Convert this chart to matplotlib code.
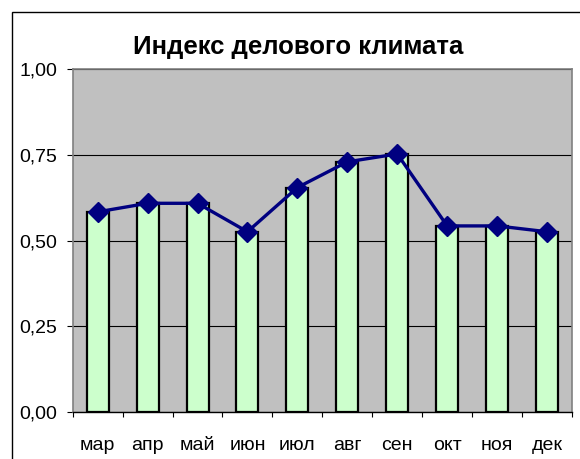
import numpy as np
import matplotlib
matplotlib.use("Agg")
import matplotlib.pyplot as plt
from matplotlib.patches import Rectangle

plt.rcParams["font.family"] = ["Liberation Sans", "DejaVu Sans"]

# data
months = ["мар", "апр", "май", "июн", "июл", "авг", "сен", "окт", "ноя", "дек"]
index_vals = [0.584, 0.609, 0.609, 0.526, 0.655, 0.730, 0.753, 0.543, 0.543, 0.526]
yticks = [0.0, 0.25, 0.5, 0.75, 1.0]
ytick_labels = ["0,00", "0,25", "0,50", "0,75", "1,00"]

W, H = 580, 459
fig = plt.figure(figsize=(W/100, H/100), dpi=100)

# outer chart border (runs off right / bottom edge)
fig.patches.append(Rectangle((11.5/W, -0.05), 1.0, 1 - 11.5/H + 0.05,
                             transform=fig.transFigure, fill=False,
                             edgecolor="black", linewidth=1.0))

ax = fig.add_axes([72.7/W, (H-412)/H, 499.3/W, 342.7/H])
ax.set_facecolor("#C0C0C0")

x = np.arange(len(months))
ax.bar(x, index_vals, width=0.44, color="#CCFFCC", edgecolor="black",
       linewidth=1.6, zorder=3)
ax.plot(x, index_vals, color="#000080", linewidth=2.4, marker="D",
        markersize=10, markeredgecolor="#000080", zorder=4)

ax.set_xlim(-0.5, len(months) - 0.5)
ax.set_ylim(0, 1)
ax.set_yticks(yticks)
ax.set_yticklabels(ytick_labels, fontsize=14)
ax.yaxis.grid(True, color="black", linewidth=0.8, zorder=1)
ax.set_axisbelow(True)

# category labels centered, ticks at category boundaries
ax.set_xticks(x)
ax.set_xticklabels(months, fontsize=14)
ax.tick_params(axis="x", length=0, pad=18)
ax.set_xticks(np.arange(len(months) + 1) - 0.5, minor=True)
ax.tick_params(axis="x", which="minor", length=3.6, width=0.8, color="black")
ax.tick_params(axis="y", length=4.3, width=0.8, color="black", pad=7)

for s in ["top", "right", "left"]:
    ax.spines[s].set_color("#808080")
    ax.spines[s].set_linewidth(1.2)
ax.spines["bottom"].set_color("black")
ax.spines["bottom"].set_linewidth(1.0)

fig.text(298/W, 1 - 47/H, "Индекс делового климата", ha="center", va="center",
         fontsize=18.5, fontweight="bold")

fig.savefig("out.png", dpi=100)
